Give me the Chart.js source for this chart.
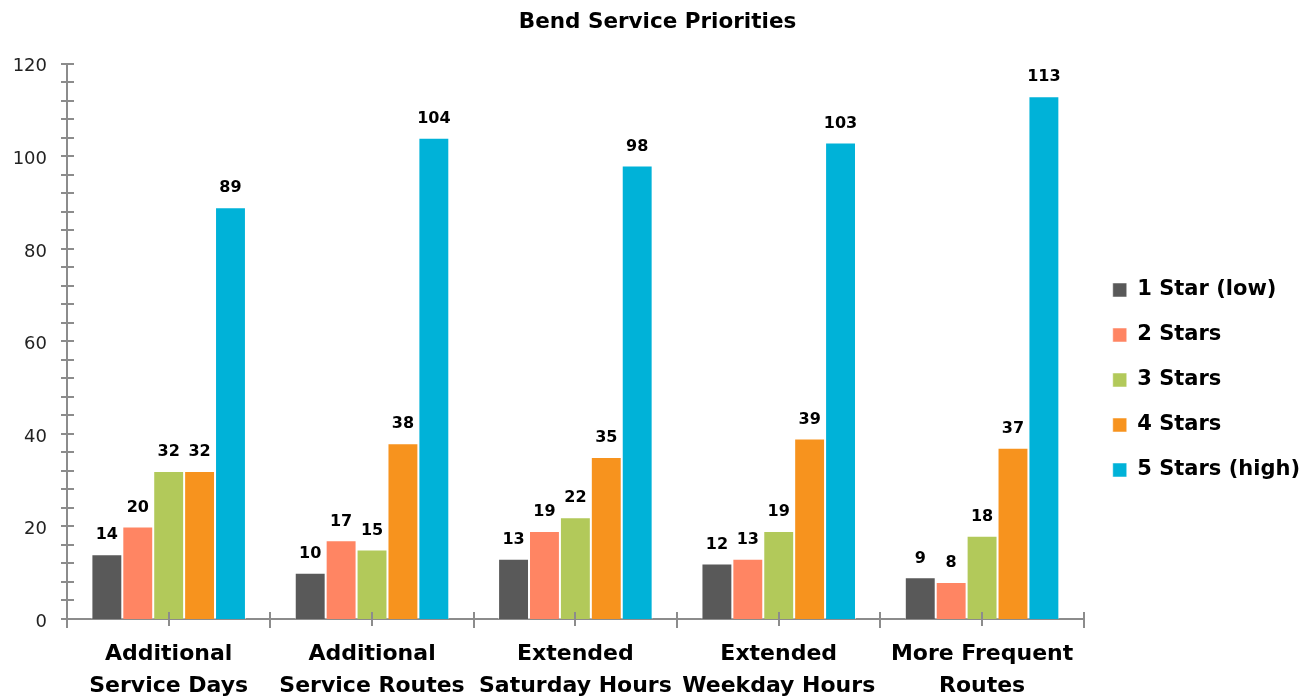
<!DOCTYPE html>
<html>
<head>
<meta charset="utf-8">
<script src="https://cdn.jsdelivr.net/npm/chart.js@4"></script>
<style>
  html, body { margin: 0; padding: 0; background: #fff; }
  #wrap { width: 1305px; height: 700px; position: relative; }
</style>
</head>
<body>
<div id="wrap"><canvas id="chart"></canvas></div>
<script>
const categories = [
  ['Additional', 'Service Days'],
  ['Additional', 'Service Routes'],
  ['Extended', 'Saturday Hours'],
  ['Extended', 'Weekday Hours'],
  ['More Frequent', 'Routes'],
];
const seriesNames = ['1 Star (low)', '2 Stars', '3 Stars', '4 Stars', '5 Stars (high)'];
const oneStar   = [14, 10, 13, 12, 9];
const twoStars  = [20, 17, 19, 13, 8];
const threeStars = [32, 15, 22, 19, 18];
const fourStars = [32, 38, 35, 39, 37];
const fiveStars = [89, 104, 98, 103, 113];
const yTicks = [0, 20, 40, 60, 80, 100, 120];

const colors = ['#595959', '#FF8563', '#B2C95A', '#F7931E', '#00B2D8'];
const FONT = '"DejaVu Sans", sans-serif';
const AXIS = '#8c8c8c';

const seriesValues = [oneStar, twoStars, threeStars, fourStars, fiveStars];

// valeurs au-dessus des barres
const valueLabels = {
  id: 'valueLabels',
  afterDatasetsDraw(chart) {
    const ctx = chart.ctx;
    ctx.save();
    ctx.font = `bold 16px ${FONT}`;
    ctx.fillStyle = '#000';
    ctx.textAlign = 'center';
    ctx.textBaseline = 'bottom';
    chart.data.datasets.forEach((ds, i) => {
      chart.getDatasetMeta(i).data.forEach((bar, j) => {
        ctx.fillText(ds.data[j], bar.x, bar.y - 11);
      });
    });
    ctx.restore();
  }
};

// petites graduations qui croisent les axes
const axisTicks = {
  id: 'axisTicks',
  afterDraw(chart) {
    const ctx = chart.ctx;
    const y = chart.scales.y, x = chart.scales.x;
    ctx.save();
    ctx.strokeStyle = AXIS;
    ctx.lineWidth = 2;
    ctx.beginPath();
    for (let v = 0; v <= 120; v += 4) {
      const py = Math.round(y.getPixelForValue(v));
      ctx.moveTo(x.left - 6, py);
      ctx.lineTo(x.left + 7, py);
    }
    const n = categories.length;
    const w = (x.right - x.left) / n;
    for (let i = 0; i <= n; i++) {
      const px = Math.round(x.left + i * w);
      ctx.moveTo(px, y.bottom - 7);
      ctx.lineTo(px, y.bottom + 9);
    }
    for (let i = 0; i < n; i++) {
      const px = Math.round(x.getPixelForValue(i));
      ctx.moveTo(px, y.bottom - 7);
      ctx.lineTo(px, y.bottom + 7);
    }
    ctx.stroke();
    ctx.restore();
  }
};

// décale la légende comme dans l'original
const legendShift = {
  id: 'legendShift',
  afterLayout(chart) {
    const lg = chart.legend;
    lg.top += 25; lg.bottom += 25;
    lg.left += 5; lg.right += 5;
  }
};

new Chart(document.getElementById('chart'), {
  type: 'bar',
  data: {
    labels: categories,
    datasets: seriesNames.map((name, i) => ({
      label: name,
      data: seriesValues[i],
      backgroundColor: colors[i],
      borderColor: 'rgba(255,255,255,0.5)',
      borderWidth: 1,
      categoryPercentage: 0.76,
      barPercentage: 1.0,
    })),
  },
  options: {
    responsive: true,
    maintainAspectRatio: false,
    animation: false,
    layout: { padding: { top: 10, right: 0, left: 10, bottom: 0 } },
    plugins: {
      title: {
        display: true,
        text: 'Bend Service Priorities',
        color: '#000',
        font: { family: FONT, size: 21.5, weight: 'bold' },
        padding: { top: 0, bottom: 28 },
      },
      legend: {
        position: 'right',
        align: 'center',
        labels: {
          color: '#000',
          font: { family: FONT, size: 21, weight: 'bold' },
          boxWidth: 14,
          boxHeight: 14,
          padding: 24,
        },
      },
      tooltip: { enabled: false },
    },
    scales: {
      x: {
        grid: { display: false, drawTicks: false },
        border: { display: true, color: AXIS, width: 2 },
        afterFit: s => { s.height = 81; },
        ticks: {
          color: '#000',
          font: { family: FONT, size: 22, weight: 'bold', lineHeight: 1.45 },
          padding: 19,
          maxRotation: 0,
          autoSkip: false,
        },
      },
      y: {
        min: 0,
        max: 120,
        afterBuildTicks: axis => { axis.ticks = yTicks.map(v => ({ value: v })); },
        afterFit: s => { s.width = 57; },
        grid: { display: false, drawTicks: false },
        border: { display: true, color: AXIS, width: 2 },
        ticks: {
          color: '#222',
          font: { family: FONT, size: 18 },
          padding: 20,
          labelOffset: 3,
        },
      },
    },
  },
  plugins: [valueLabels, axisTicks, legendShift],
});
</script>
</body>
</html>
